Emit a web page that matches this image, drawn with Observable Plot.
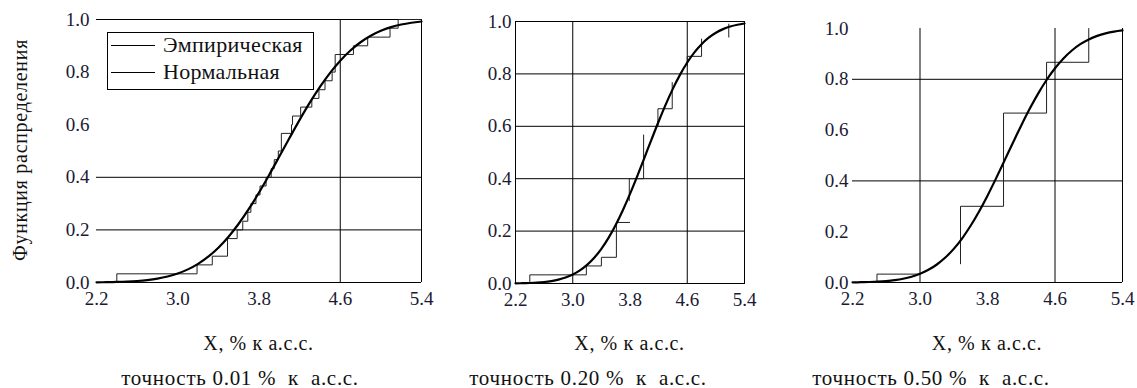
<!DOCTYPE html>
<html><head><meta charset="utf-8">
<script src="https://cdn.jsdelivr.net/npm/d3@7"></script>
<script src="https://cdn.jsdelivr.net/npm/@observablehq/plot@0.6"></script>
<style>
html,body{margin:0;padding:0;background:#fff;}
#wrap{position:relative;width:1137px;height:388px;overflow:hidden;font-family:"Liberation Serif","Times New Roman",serif;color:#111;}
.panel{position:absolute;top:0;}
.lbl{position:absolute;white-space:pre;line-height:1;transform:translate(-50%,-50%);}
.ylbl{position:absolute;white-space:pre;line-height:1;transform:translate(-50%,-50%) rotate(-90deg);}
.legend{position:absolute;background:#fff;border:1px solid #000;box-sizing:border-box;}
.legend .row{position:absolute;left:0;height:0;}
.legend .sw{position:absolute;left:3px;width:44px;height:1px;background:#000;}
.legend .tx{position:absolute;left:55px;white-space:pre;line-height:1;transform:translateY(-50%);}
</style></head><body><div id="wrap"></div>
<script>
// ---- data ----
const xTicks = [2.2, 3.0, 3.8, 4.6, 5.4];
const yTicks = [0, 0.2, 0.4, 0.6, 0.8, 1.0];

// normal distribution function
const normX = [2.2,2.3,2.4,2.5,2.6,2.7,2.8,2.9,3.0,3.1,3.2,3.3,3.4,3.5,3.6,3.7,3.8,3.9,4.0,4.1,4.2,4.3,4.4,4.5,4.6,4.7,4.8,4.9,5.0,5.1,5.2,5.3,5.4];
const normY = [0.0006,0.0011,0.0020,0.0034,0.0057,0.0093,0.0147,0.0228,0.0342,0.0499,0.0709,0.0982,0.1324,0.1741,0.2233,0.2796,0.3420,0.4090,0.4789,0.5493,0.6183,0.6837,0.7438,0.7973,0.8435,0.8822,0.9135,0.9382,0.9570,0.9709,0.9808,0.9877,0.9923];

// empirical step functions (step-after vertices, null = break)
const emp1X = [2.2,2.40,3.19,3.34,3.49,3.585,3.64,3.69,3.72,3.77,3.81,3.87,3.92,3.95,3.99,4.02,4.12,4.13,4.21,4.32,4.39,4.45,4.52,4.55,4.73,4.87,5.09,5.17,5.4];
const emp1Y = [0,0.033,0.067,0.1,0.167,0.2,0.233,0.267,0.3,0.333,0.367,0.4,0.433,0.467,0.5,0.567,0.6,0.633,0.667,0.7,0.733,0.767,0.8,0.867,0.9,0.933,0.967,1.0,1.0];

const emp2X = [2.2,2.40,3.19,3.40,3.61,3.80,3.80, 3.79,3.79,3.99,3.99, 4.19,4.19,4.39,4.39, 4.60,4.60,4.80,4.80, 5.18,5.18];
const emp2Y = [0,0.033,0.067,0.1,0.233,0.233,null, 0.316,0.4,0.567,null, 0.6,0.667,0.767,null, 0.83,0.867,0.933,null, 0.94,0.99];

const emp3X = [2.2,2.49,3.0,3.0, 3.48,3.48,3.99,4.50,5.0];
const emp3Y = [0,0.033,0.033,null, 0.073,0.3,0.667,0.867,1.0];

// grid lines visible in each panel
const grid1X = [4.6, 5.4], grid1Y = [0, 0.2, 0.4, 1.0];
const grid2X = [3.0, 4.6], grid2Y = [0.2, 0.4, 0.6, 0.8];
const grid3X = [3.0, 4.6, 5.4], grid3Y = [0, 0.4, 0.8];

const xLabel = "X, % к а.с.с.";
const yLabel = "Функция распределения";
const captions = ["точность 0.01 %  к  а.с.с.", "точность 0.20 %  к  а.с.с.", "точность 0.50 %  к  а.с.с."];
const legendLabels = ["Эмпирическая", "Нормальная"];

// ---- layout ----
const layout = [
  {left:96, right:421, top:19, bottom:282, pad:7, frame:false, capX:240},
  {left:515, right:744, top:21, bottom:283, pad:4, frame:true, capX:588},
  {left:852, right:1122, top:28, bottom:282, pad:4, frame:false, capX:931}
];
const empX = [emp1X, emp2X, emp3X], empY = [emp1Y, emp2Y, emp3Y];
const gridX = [grid1X, grid2X, grid3X], gridY = [grid1Y, grid2Y, grid3Y];
const norm = normX.map((x, i) => ({x, y: normY[i]}));

const wrap = document.getElementById("wrap");
const ML = 45, MR = 12, MB = 32;
const fmt = d3.format(".1f");

layout.forEach((p, k) => {
  const emp = empX[k].map((x, i) => ({x, y: empY[k][i]}));
  const chart = Plot.plot({
    width: ML + (p.right - p.left) + MR,
    height: p.bottom + MB,
    marginLeft: ML, marginRight: MR, marginTop: p.top, marginBottom: MB,
    x: {domain: [2.2, 5.4], ticks: xTicks, tickFormat: fmt, tickSize: 0, tickPadding: 9, label: null},
    y: {domain: [0, 1], ticks: yTicks, tickFormat: fmt, tickSize: 0, tickPadding: p.pad, label: null},
    style: {fontFamily: '"Liberation Serif","Times New Roman",serif', fontSize: "19px", color: "#1a1a33", background: "transparent", overflow: "visible"},
    marks: [
      Plot.ruleY(gridY[k], {stroke: "#000", strokeWidth: 1}),
      Plot.ruleX(gridX[k], {stroke: "#000", strokeWidth: 1}),
      p.frame ? Plot.frame({stroke: "#000", strokeWidth: 1}) : null,
      Plot.line(emp, {x: "x", y: "y", curve: "step-after", stroke: "#222", strokeWidth: 1}),
      Plot.line(norm, {x: "x", y: "y", curve: "monotone-x", stroke: "#000", strokeWidth: 2.2})
    ]
  });
  chart.classList.add("panel");
  chart.style.left = (p.left - ML) + "px";
  wrap.appendChild(chart);

  const xl = document.createElement("div");
  xl.className = "lbl"; xl.textContent = xLabel;
  xl.style.left = ((p.left + p.right) / 2) + "px"; xl.style.top = "343px";
  xl.style.fontSize = "20px"; xl.style.letterSpacing = "0.6px";
  wrap.appendChild(xl);

  const cap = document.createElement("div");
  cap.className = "lbl"; cap.textContent = captions[k];
  cap.style.left = p.capX + "px"; cap.style.top = "378px";
  cap.style.fontSize = "21px"; cap.style.letterSpacing = "0.7px";
  wrap.appendChild(cap);
});

const yl = document.createElement("div");
yl.className = "ylbl"; yl.textContent = yLabel;
yl.style.left = "20px"; yl.style.top = "150px"; yl.style.fontSize = "20px"; yl.style.letterSpacing = "0.7px";
wrap.appendChild(yl);

// legend of the first panel
const lg = document.createElement("div");
lg.className = "legend";
Object.assign(lg.style, {left: "107px", top: "32px", width: "207px", height: "58px"});
legendLabels.forEach((t, i) => {
  const row = document.createElement("div");
  row.className = "row"; row.style.top = (i === 0 ? 12 : 39) + "px";
  const sw = document.createElement("div"); sw.className = "sw";
  const tx = document.createElement("div"); tx.className = "tx"; tx.textContent = t;
  tx.style.fontSize = "22px"; tx.style.letterSpacing = "0.3px";
  row.appendChild(sw); row.appendChild(tx); lg.appendChild(row);
});
wrap.appendChild(lg);
</script>
</body></html>
